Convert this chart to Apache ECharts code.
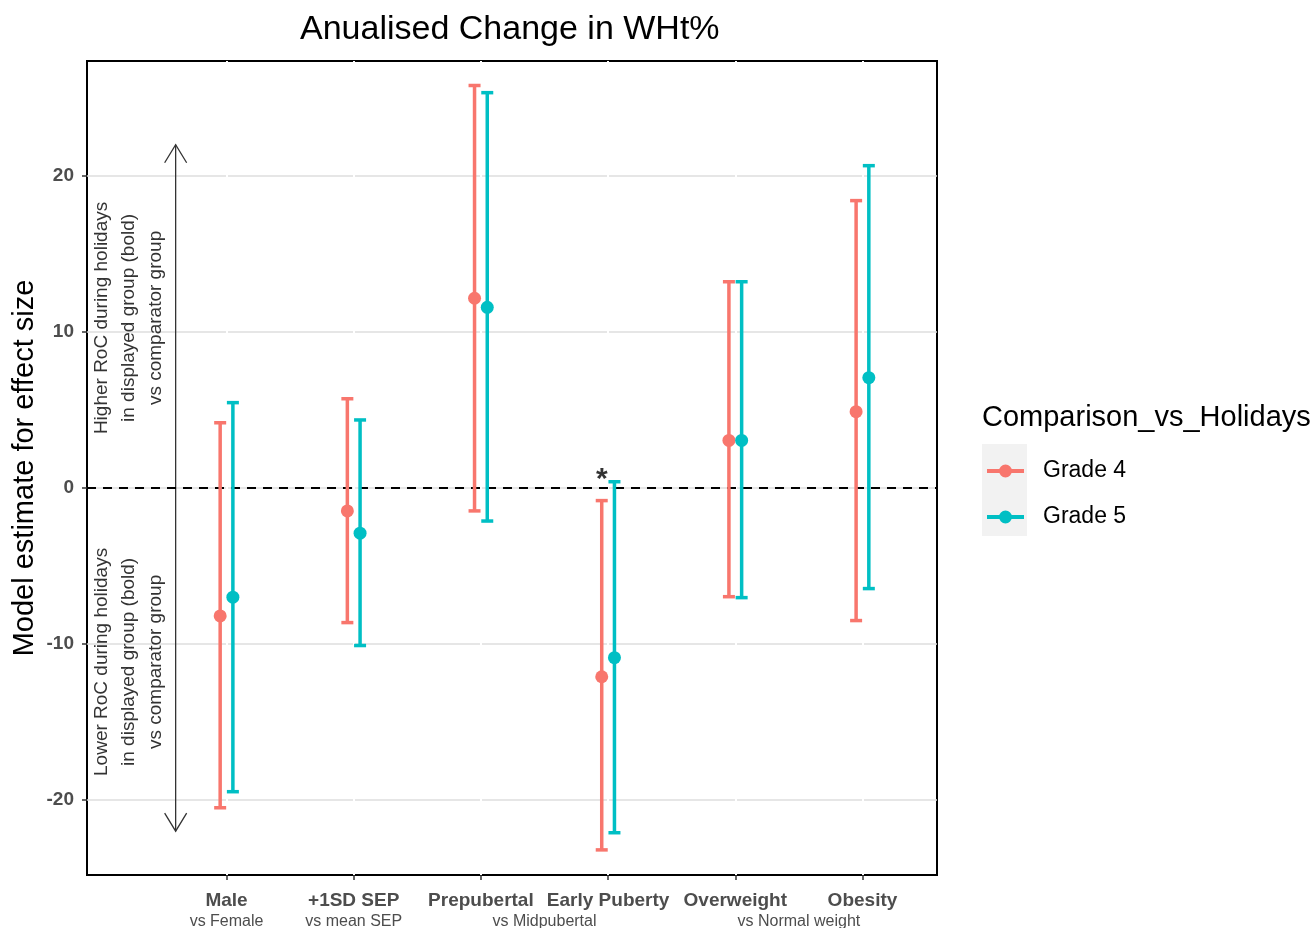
<!DOCTYPE html>
<html>
<head>
<meta charset="utf-8">
<script src="https://cdn.jsdelivr.net/npm/echarts@6/dist/echarts.min.js"></script>
<style>html,body{margin:0;padding:0;background:#fff}#c{width:1314px;height:928px}</style>
</head>
<body>
<div id="c"></div>
<script>
// ---- data ----
const categories = ['Male', '+1SD SEP', 'Prepubertal', 'Early Puberty', 'Overweight', 'Obesity'];
const subLabels = ['vs Female', 'vs mean SEP', 'vs Midpubertal', 'vs Normal weight'];
const subLabelPos = [1, 2, 3.5, 5.5];
const yTicks = [-20, -10, 0, 10, 20];
const seriesNames = ['Grade 4', 'Grade 5'];
const g4Est  = [-8.2, -1.47, 12.16, -12.1, 3.05, 4.89];
const g4Low  = [-20.5, -8.63, -1.47, -23.2, -6.97, -8.5];
const g4High = [4.18, 5.72, 25.8, -0.81, 13.22, 18.42];
const g5Est  = [-7.0, -2.9, 11.58, -10.88, 3.05, 7.07];
const g5Low  = [-19.47, -10.1, -2.12, -22.1, -7.03, -6.45];
const g5High = [5.47, 4.36, 25.34, 0.4, 13.22, 20.66];
const starPoint = [3.95, 0.55];
const arrowSpec = [0.6, -22, 22];
const arrowTexts = [
  [0.23, 10.9, 'Higher RoC during holidays\nin displayed group (bold)\nvs comparator group'],
  [0.23, -11.15, 'Lower RoC during holidays\nin displayed group (bold)\nvs comparator group']
];

const XMIN = -0.097, XMAX = 6.586, YMIN = -24.81, YMAX = 27.37;
const dodge = 0.05;
const colors = ['#F8766D', '#00BFC4'];
const FONT = "'Liberation Sans', Arial, sans-serif";

function errData(low, high, off) {
  return low.map((l, i) => [i + 1 + off, l, high[i]]);
}
function ptData(est, off) {
  return est.map((v, i) => [i + 1 + off, v]);
}
function renderErr(params, api) {
  const x = api.value(0), lo = api.value(1), hi = api.value(2);
  const pLo = api.coord([x, lo]), pHi = api.coord([x, hi]);
  const hw = 6;
  const style = { stroke: api.visual('color'), lineWidth: 3.5, fill: null, lineCap: 'butt' };
  return { type: 'group', children: [
    { type: 'line', shape: { x1: pLo[0], y1: pLo[1], x2: pHi[0], y2: pHi[1] }, style },
    { type: 'line', shape: { x1: pHi[0] - hw, y1: pHi[1], x2: pHi[0] + hw, y2: pHi[1] }, style },
    { type: 'line', shape: { x1: pLo[0] - hw, y1: pLo[1], x2: pLo[0] + hw, y2: pLo[1] }, style }
  ]};
}
function renderArrow(params, api) {
  const x = api.value(0), lo = api.value(1), hi = api.value(2);
  const a = api.coord([x, hi]), b = api.coord([x, lo]);
  const st = { stroke: '#333', lineWidth: 1.3, fill: null };
  const dx = 11, dy = 18;
  return { type: 'group', children: [
    { type: 'line', shape: { x1: a[0], y1: a[1], x2: b[0], y2: b[1] }, style: st },
    { type: 'polyline', shape: { points: [[a[0] - dx, a[1] + dy], [a[0], a[1]], [a[0] + dx, a[1] + dy]] }, style: st },
    { type: 'polyline', shape: { points: [[b[0] - dx, b[1] - dy], [b[0], b[1]], [b[0] + dx, b[1] - dy]] }, style: st }
  ]};
}
function renderNote(params, api) {
  const p = api.coord([api.value(0), api.value(1)]);
  return { type: 'text', x: p[0], y: p[1], rotation: Math.PI / 2,
    style: { text: arrowTexts[params.dataIndex][2], textAlign: 'center', textVerticalAlign: 'middle',
      font: '19px ' + FONT, fill: '#333', lineHeight: 27 } };
}

const legendIcon = 'path://M0,5h37v4h-37z M25,7A6.5,6.5 0 1,1 12,7A6.5,6.5 0 1,1 25,7Z';

const chart = echarts.init(document.getElementById('c'), null, { renderer: 'canvas' });
chart.setOption({
  animation: false,
  backgroundColor: '#fff',
  title: [
    { text: 'Anualised Change in WHt%', left: 300, top: 13, padding: 0,
      textStyle: { fontFamily: FONT, fontSize: 34, fontWeight: 'normal', color: '#000' } },
    { text: 'Comparison_vs_Holidays', left: 982, top: 403, padding: 0,
      textStyle: { fontFamily: FONT, fontSize: 29, fontWeight: 'normal', color: '#000' } }
  ],
  graphic: [
    { type: 'rect', left: 982, top: 444, shape: { width: 45, height: 92 }, style: { fill: '#F2F2F2' }, z: -1 }
  ],
  legend: {
    orient: 'vertical', left: 987, top: 459, padding: 0, itemGap: 22,
    itemWidth: 37, itemHeight: 13,
    data: seriesNames.map(n => ({ name: n, icon: legendIcon })),
    textStyle: { fontFamily: FONT, fontSize: 23, color: '#000', lineHeight: 24, padding: [0, 0, 0, 14] }
  },
  grid: { left: 87, right: 377, top: 61, bottom: 53, containLabel: false, outerBoundsMode: 'none',
    show: true, borderColor: '#000', borderWidth: 2, backgroundColor: 'transparent' },
  xAxis: [
    { type: 'value', min: XMIN, max: XMAX, z: 1, position: 'bottom',
      axisLine: { show: false, onZero: false },
      axisTick: { show: true, length: 5, customValues: [1, 2, 3, 4, 5, 6], lineStyle: { color: '#333', width: 1.5 } },
      splitLine: { show: true, lineStyle: { color: '#fff', width: 2 } },
      axisLabel: { customValues: [1, 2, 3, 4, 5, 6], margin: 16, hideOverlap: false,
        fontFamily: FONT, fontSize: 19, fontWeight: 'bold', color: '#4D4D4D',
        formatter: v => categories[Math.round(v) - 1] }
    },
    { type: 'value', min: XMIN, max: XMAX, position: 'bottom',
      axisLine: { show: false, onZero: false }, axisTick: { show: false }, splitLine: { show: false },
      axisLabel: { customValues: subLabelPos, margin: 39, hideOverlap: false,
        fontFamily: FONT, fontSize: 16, color: '#4D4D4D',
        formatter: v => subLabels[subLabelPos.indexOf(v)] }
    }
  ],
  yAxis: {
    type: 'value', min: YMIN, max: YMAX, position: 'left',
    name: 'Model estimate for effect size', nameLocation: 'middle', nameRotate: 90, nameGap: 48,
    nameMoveOverlap: false,
    nameTextStyle: { fontFamily: FONT, fontSize: 29, color: '#000' },
    axisLine: { show: false, onZero: false },
    axisTick: { show: true, length: 5, customValues: yTicks, lineStyle: { color: '#333', width: 1.5 } },
    splitLine: { show: true, lineStyle: { color: '#DEDEDE', width: 1.5 } },
    axisLabel: { customValues: yTicks, margin: 13, fontFamily: FONT, fontSize: 19, fontWeight: 'bold', color: '#4D4D4D' }
  },
  series: [
    { type: 'line', silent: true, symbol: 'none', data: [[XMIN, 0], [XMAX, 0]],
      lineStyle: { color: '#000', width: 2, type: [9, 7] }, z: 2 },
    { type: 'custom', silent: true, renderItem: renderArrow, data: [arrowSpec],
      encode: { x: 0, y: [1, 2] }, z: 2 },
    { type: 'custom', silent: true, renderItem: renderNote, data: arrowTexts.map(t => [t[0], t[1]]),
      encode: { x: 0, y: 1 }, z: 2 },
    { name: seriesNames[0], type: 'custom', renderItem: renderErr, data: errData(g4Low, g4High, -dodge),
      itemStyle: { color: colors[0] }, encode: { x: 0, y: [1, 2] }, z: 3 },
    { name: seriesNames[1], type: 'custom', renderItem: renderErr, data: errData(g5Low, g5High, dodge),
      itemStyle: { color: colors[1] }, encode: { x: 0, y: [1, 2] }, z: 3 },
    { name: seriesNames[0], type: 'scatter', symbol: 'circle', symbolSize: 13, data: ptData(g4Est, -dodge),
      itemStyle: { color: colors[0], opacity: 1 }, z: 4 },
    { name: seriesNames[1], type: 'scatter', symbol: 'circle', symbolSize: 13, data: ptData(g5Est, dodge),
      itemStyle: { color: colors[1], opacity: 1 }, z: 4 },
    { type: 'scatter', silent: true, symbolSize: 0, data: [starPoint], z: 5,
      label: { show: true, position: 'inside', formatter: '*', fontFamily: FONT, fontSize: 30, fontWeight: 'bold', color: '#000' } }
  ]
});
</script>
</body>
</html>
